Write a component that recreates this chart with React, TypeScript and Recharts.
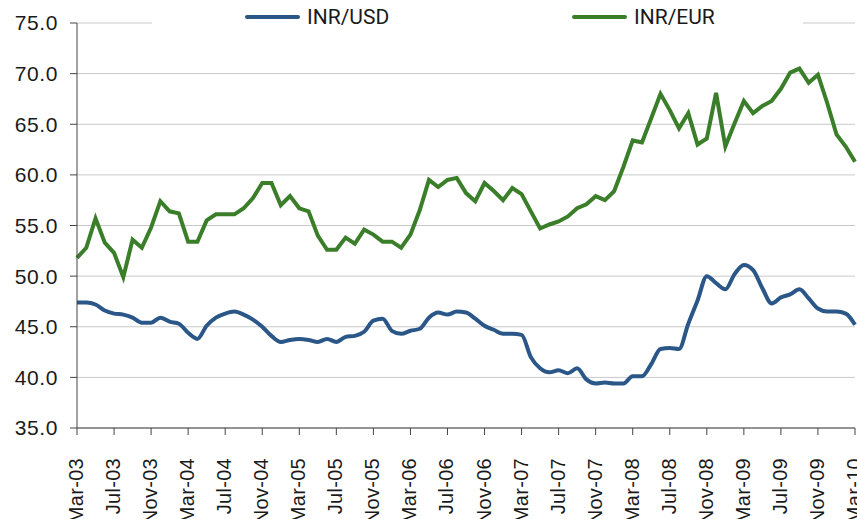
import React from 'react';
import { LineChart, Line, XAxis, YAxis, CartesianGrid } from 'recharts';

const MONTH_NAMES = ['Jan', 'Feb', 'Mar', 'Apr', 'May', 'Jun', 'Jul', 'Aug', 'Sep', 'Oct', 'Nov', 'Dec'];

// monthly, Mar-03 .. Mar-10
const inrUsd = [
  47.4, 47.4, 47.2, 46.6, 46.3, 46.2, 45.9, 45.4, 45.4, 45.9, 45.5, 45.3,
  44.4, 43.8, 45.1, 45.9, 46.3, 46.5, 46.2, 45.7, 45.0, 44.1, 43.5, 43.7,
  43.8, 43.7, 43.5, 43.8, 43.5, 44.0, 44.1, 44.5, 45.6, 45.8, 44.6, 44.3,
  44.6, 44.8, 45.9, 46.4, 46.2, 46.5, 46.4, 45.8, 45.1, 44.7, 44.3, 44.3,
  44.2, 42.0, 40.9, 40.5, 40.7, 40.4, 40.9, 39.8, 39.4, 39.5, 39.4, 39.4,
  40.1, 40.1, 41.3, 42.8, 42.9, 42.8, 45.3, 47.6, 50.0, 49.3, 48.7, 50.2,
  51.1, 50.6, 48.8, 47.3, 47.9, 48.2, 48.7, 47.8, 46.8, 46.5, 46.5, 46.3,
  45.2,
];

const inrEur = [
  51.8, 52.8, 55.7, 53.3, 52.3, 49.9, 53.6, 52.8, 54.8, 57.4, 56.4, 56.2,
  53.4, 53.4, 55.5, 56.1, 56.1, 56.1, 56.7, 57.7, 59.2, 59.2, 57.0, 57.9,
  56.7, 56.4, 54.0, 52.6, 52.6, 53.8, 53.2, 54.6, 54.1, 53.4, 53.4, 52.8,
  54.1, 56.5, 59.5, 58.8, 59.5, 59.7, 58.2, 57.4, 59.2, 58.4, 57.5, 58.7,
  58.1, 56.4, 54.7, 55.1, 55.4, 55.9, 56.7, 57.1, 57.9, 57.5, 58.4, 60.8,
  63.4, 63.2, 65.6, 68.0, 66.4, 64.6, 66.1, 63.0, 63.6, 68.1, 62.8, 65.1,
  67.3, 66.1, 66.8, 67.3, 68.5, 70.1, 70.5, 69.1, 69.9, 67.1, 64.0, 62.8,
  61.3,
];

const yTicks = [35, 40, 45, 50, 55, 60, 65, 70, 75];

const months = inrUsd.map((_, i) => {
  const m = (2 + i) % 12;
  const y = 3 + Math.floor((2 + i) / 12);
  return `${MONTH_NAMES[m]}-${String(y).padStart(2, '0')}`;
});

const data = months.map((m, i) => ({ m, usd: inrUsd[i], eur: inrEur[i] }));

const BLUE = '#2a5788';
const GREEN = '#3a7e2a';
const FONT = "'Liberation Sans', Arial, sans-serif";

const series = [
  { key: 'usd', name: 'INR/USD', color: BLUE, type: 'monotone', left: 93 },
  { key: 'eur', name: 'INR/EUR', color: GREEN, type: 'linear', left: 420 },
];

const MonthTick = ({ x, y, payload }: any) => (
  <text
    x={x}
    y={y + 21}
    transform={`rotate(-90, ${x}, ${y + 21})`}
    textAnchor="end"
    dy="0.3em"
    fontSize={20}
    letterSpacing={0.3}
    fontFamily={FONT}
    fill="#1a1a1a"
  >
    {payload.value}
  </text>
);

// legend sits on a white box that hides the top gridline, like the original
const LegendBox = () => (
  <div style={{ position: 'absolute', left: 152, top: 0, width: 651, height: 36, background: '#fff' }}>
    {series.map((it) => (
      <div key={it.name} style={{ position: 'absolute', left: it.left, top: 5, display: 'flex', alignItems: 'center' }}>
        <div style={{ width: 55, height: 4, borderRadius: 2, background: it.color }} />
        <span
          style={{
            marginLeft: 7,
            fontFamily: 'Roboto, sans-serif',
            fontSize: 21,
            color: '#1a1a1a',
            lineHeight: '24px',
          }}
        >
          {it.name}
        </span>
      </div>
    ))}
  </div>
);

export default function App() {
  return (
    <div style={{ position: 'absolute', left: 0, top: 0, width: 857, height: 519, background: '#fff' }}>
      <LineChart width={857} height={519} data={data} margin={{ top: 23, right: 2, bottom: 0, left: 0 }}>
        <CartesianGrid vertical={false} stroke="#c9c9c9" />
        <XAxis
          dataKey="m"
          interval={3}
          height={91}
          tick={<MonthTick />}
          tickSize={7}
          axisLine={{ stroke: '#444' }}
          tickLine={{ stroke: '#444' }}
        />
        <YAxis
          domain={[35, 75]}
          ticks={yTicks}
          width={77}
          tickSize={7}
          tickMargin={12}
          tickFormatter={(v: number) => v.toFixed(1)}
          tick={{ fontSize: 21, fill: '#1a1a1a', fontFamily: FONT, letterSpacing: 0.6 }}
          axisLine={{ stroke: '#444' }}
          tickLine={{ stroke: '#444' }}
        />
        {series.map((s) => (
          <Line
            key={s.key}
            name={s.name}
            dataKey={s.key}
            type={s.type as any}
            stroke={s.color}
            strokeWidth={4}
            dot={false}
            isAnimationActive={false}
          />
        ))}
      </LineChart>
      <LegendBox />
    </div>
  );
}
